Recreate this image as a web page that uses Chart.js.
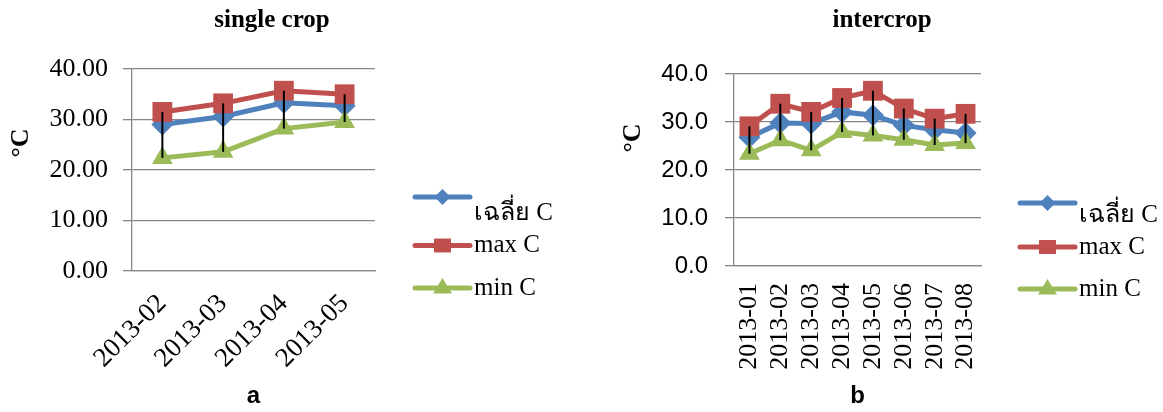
<!DOCTYPE html>
<html>
<head>
<meta charset="utf-8">
<script src="https://cdn.jsdelivr.net/npm/chart.js@4.4.0/dist/chart.umd.min.js"></script>
<style>
  html, body { margin: 0; padding: 0; background: #fff; }
  #wrap { position: relative; width: 1163px; height: 412px; overflow: hidden; }
  .panel { position: absolute; top: 0; height: 412px; }
</style>
</head>
<body>
<div id="wrap">
  <div class="panel" style="left:0;width:580px"><canvas id="singleChart" width="580" height="412"></canvas></div>
  <div class="panel" style="left:580px;width:583px"><canvas id="interChart" width="583" height="412"></canvas></div>
</div>
<script>
// series names (legend)
const seriesLabels = ['เฉลี่ย C', 'max C', 'min C']

// (a) single crop
const singleMonths = ['2013-02', '2013-03', '2013-04', '2013-05']
const singleAvg = [29.0, 30.6, 33.3, 32.7]
const singleMax = [31.5, 33.2, 35.7, 35.0]
const singleMin = [22.4, 23.6, 28.2, 29.5]

// (b) intercrop
const interMonths = ['2013-01', '2013-02', '2013-03', '2013-04', '2013-05', '2013-06', '2013-07', '2013-08']
const interAvg = [26.8, 29.8, 29.7, 32.1, 31.4, 29.3, 28.4, 27.7]
const interMax = [29.1, 33.8, 32.1, 35.0, 36.5, 32.8, 30.7, 31.7]
const interMin = [23.4, 26.2, 24.1, 27.9, 27.2, 26.3, 25.2, 25.6]

const yTicks = [0, 10, 20, 30, 40]

const BLUE = '#4F81BD'
const RED = '#C0504D'
const GREEN = '#9BBB59'
const GRID = '#878787'
const SERIF = '"Liberation Serif", "Times New Roman", "DejaVu Serif", serif'
const SANS = '"Liberation Sans", Arial, "DejaVu Sans", sans-serif'

const colors = [BLUE, RED, GREEN]
const styles = ['rectRot', 'rect', 'triangle']

function drawMarker(ctx, style, cx, cy, r) {
  ctx.beginPath()
  if (style === 'rectRot') {
    ctx.moveTo(cx, cy - r); ctx.lineTo(cx + r, cy); ctx.lineTo(cx, cy + r); ctx.lineTo(cx - r, cy)
  } else if (style === 'rect') {
    ctx.rect(cx - r, cy - r * 0.82, 2 * r, 1.64 * r)
  } else {
    ctx.moveTo(cx, cy - r); ctx.lineTo(cx + r * 0.95, cy + r * 0.55); ctx.lineTo(cx - r * 0.95, cy + r * 0.55)
  }
  ctx.closePath()
  ctx.fill()
}

// high-low bars, title, axis label and legend
function makeDecor(o) {
  return {
    id: 'decor',
    afterDatasetsDraw(chart) {
      const { ctx, scales: { x, y } } = chart
      ctx.save()
      ctx.strokeStyle = '#000'
      ctx.lineWidth = 2
      o.high.forEach((hi, i) => {
        const px = x.getPixelForValue(i)
        ctx.beginPath()
        ctx.moveTo(px, y.getPixelForValue(hi))
        ctx.lineTo(px, y.getPixelForValue(o.low[i]))
        ctx.stroke()
      })
      ctx.restore()
    },
    afterDraw(chart) {
      const ctx = chart.ctx
      ctx.save()
      ctx.fillStyle = '#000'
      ctx.textBaseline = 'middle'

      // chart title
      ctx.font = 'bold 25px ' + SERIF
      ctx.textAlign = 'center'
      ctx.fillText(o.title, o.titleX, o.titleY)

      // y axis label
      ctx.save()
      ctx.translate(o.yLabelX, o.yLabelY)
      ctx.rotate(-Math.PI / 2)
      ctx.font = 'bold 26px ' + SERIF
      ctx.fillText('°C', 0, 0)
      ctx.restore()

      // legend
      ctx.textAlign = 'left'
      ctx.font = '25px ' + SERIF
      const sizes = [8, 8.5, 10]
      seriesLabels.forEach((lab, i) => {
        const ly = o.legendLineY[i]
        ctx.strokeStyle = colors[i]
        ctx.fillStyle = colors[i]
        ctx.lineWidth = 5
        ctx.lineCap = 'round'
        ctx.beginPath()
        ctx.moveTo(o.legendX0, ly)
        ctx.lineTo(o.legendX1, ly)
        ctx.stroke()
        drawMarker(ctx, styles[i], (o.legendX0 + o.legendX1) / 2, ly, sizes[i])
        ctx.fillStyle = '#000'
        ctx.fillText(lab, o.legendX1 + 4, o.legendTextY[i])
      })
      ctx.restore()
    }
  }
}

function makeChart(id, cfg) {
  const datasets = [cfg.avg, cfg.max, cfg.min].map((d, i) => ({
    label: seriesLabels[i],
    data: d,
    borderColor: colors[i],
    backgroundColor: colors[i],
    borderWidth: 5,
    pointStyle: styles[i],
    pointRadius: [11, 14, 12][i],
    pointBorderWidth: 0,
    pointHoverRadius: [11, 14, 12][i],
    tension: 0,
    order: 2 - i
  }))

  return new Chart(document.getElementById(id), {
    type: 'line',
    data: { labels: cfg.labels, datasets },
    options: {
      responsive: false,
      animation: false,
      events: [],
      layout: { padding: { top: cfg.area.top, left: 0, right: cfg.width - cfg.area.right, bottom: 0 } },
      plugins: { legend: { display: false }, title: { display: false }, tooltip: { enabled: false } },
      scales: {
        x: {
          type: 'category',
          offset: true,
          afterFit: (s) => { s.height = 412 - cfg.area.bottom },
          grid: { display: false, drawTicks: false },
          border: { display: true, color: GRID, width: 1.3 },
          ticks: {
            color: '#000',
            autoSkip: false,
            minRotation: cfg.rotation,
            maxRotation: cfg.rotation,
            padding: cfg.xPad,
            font: { family: SERIF, size: cfg.xFont }
          },
          title: {
            display: true,
            text: cfg.caption,
            color: '#000',
            padding: { top: 0, bottom: 1 },
            font: { family: SANS, size: 24, weight: 'bold' }
          }
        },
        y: {
          min: 0,
          max: 40,
          afterFit: (s) => { s.width = cfg.area.left },
          afterBuildTicks: (s) => { s.ticks = yTicks.map(v => ({ value: v })) },
          grid: { color: GRID, lineWidth: 1.3, tickLength: 9, drawTicks: true },
          border: { display: true, color: GRID, width: 1.3 },
          ticks: {
            color: '#000',
            padding: cfg.yPad,
            font: { family: cfg.yFamily, size: cfg.yFont },
            callback: (v) => Number(v).toFixed(cfg.decimals)
          }
        }
      }
    },
    plugins: [makeDecor(cfg.decor)]
  })
}

makeChart('singleChart', {
  width: 580,
  labels: singleMonths,
  avg: singleAvg, max: singleMax, min: singleMin,
  area: { left: 132, right: 375, top: 69, bottom: 271 },
  rotation: 45, xPad: 17, xFont: 27,
  yPad: 15, yFont: 26, yFamily: SERIF, decimals: 2,
  caption: 'a',
  decor: {
    high: singleMax, low: singleMin,
    title: 'single crop', titleX: 272, titleY: 21,
    yLabelX: 21, yLabelY: 143,
    legendX0: 415, legendX1: 470,
    legendLineY: [197, 245.5, 288],
    legendTextY: [213, 245.5, 288]
  }
})

makeChart('interChart', {
  width: 583,
  labels: interMonths,
  avg: interAvg, max: interMax, min: interMin,
  area: { left: 154, right: 401, top: 74, bottom: 266 },
  rotation: 90, xPad: 17, xFont: 26,
  yPad: 17, yFont: 24, yFamily: SANS, decimals: 1,
  caption: 'b',
  decor: {
    high: interMax, low: interMin,
    title: 'intercrop', titleX: 302, titleY: 21,
    yLabelX: 53, yLabelY: 138,
    legendX0: 440, legendX1: 495,
    legendLineY: [203, 247, 289],
    legendTextY: [215, 247, 289]
  }
})
</script>
</body>
</html>
